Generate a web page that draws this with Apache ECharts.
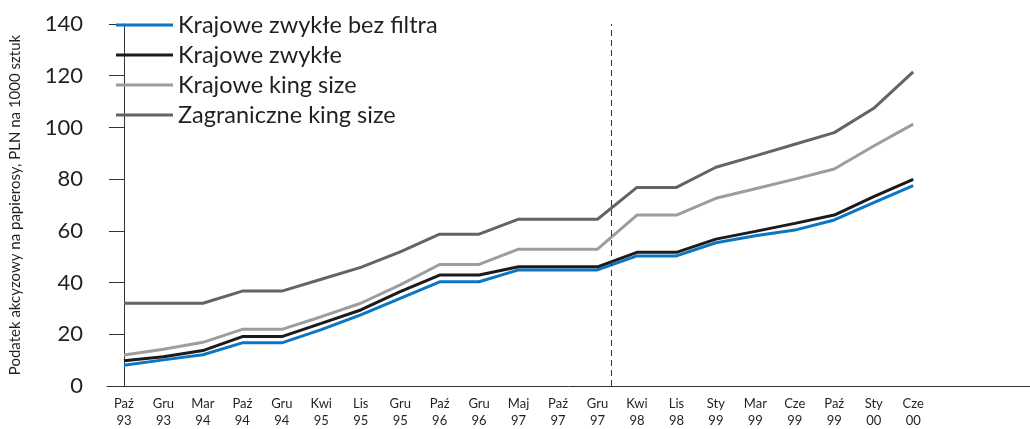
<!DOCTYPE html>
<html>
<head>
<meta charset="utf-8">
<script src="https://cdn.jsdelivr.net/npm/echarts@6/dist/echarts.min.js"></script>
<style>
  html, body { margin: 0; padding: 0; background: #fff; }
  #main { width: 1030px; height: 429px; }
</style>
</head>
<body>
<div id="main"></div>
<script>
// okresy na osi X
var categories = ["Paź 93", "Gru 93", "Mar 94", "Paź 94", "Gru 94", "Kwi 95", "Lis 95", "Gru 95",
  "Paź 96", "Gru 96", "Maj 97", "Paź 97", "Gru 97", "Kwi 98", "Lis 98", "Sty 99",
  "Mar 99", "Cze 99", "Paź 99", "Sty 00", "Cze 00"];

var seriesNames = ["Krajowe zwykłe bez filtra", "Krajowe zwykłe", "Krajowe king size", "Zagraniczne king size"];

var bezFiltra = [8.0, 10.1, 12.1, 16.7, 16.7, 21.8, 27.5, 33.9, 40.3, 40.3, 44.9, 44.9, 44.9,
  50.3, 50.3, 55.4, 58.1, 60.3, 64.2, 70.9, 77.5];
var zwykle = [9.8, 11.3, 13.7, 19.1, 19.1, 24.2, 29.4, 36.5, 42.9, 42.9, 46.1, 46.1, 46.1,
  51.7, 51.7, 56.8, 59.8, 62.9, 66.1, 73.2, 79.9];
var kingSize = [12.0, 14.2, 16.9, 21.9, 21.9, 26.8, 32.0, 39.1, 47.0, 47.0, 52.9, 52.9, 52.9,
  66.1, 66.1, 72.6, 76.3, 80.0, 83.9, 92.8, 101.3];
var zagraniczne = [32.0, 32.0, 32.0, 36.7, 36.7, 41.3, 45.9, 51.9, 58.7, 58.7, 64.5, 64.5, 64.5,
  76.8, 76.8, 84.6, 89.0, 93.5, 98.0, 107.4, 121.5];

var colors = ["#0a76c4", "#1c1a1a", "#9d9d9d", "#646464"];
var allValues = [bezFiltra, zwykle, kingSize, zagraniczne];

var font = "Lato";
var myChart = echarts.init(document.getElementById("main"));

var series = allValues.map(function (vals, k) {
  var s = {
    name: seriesNames[k],
    type: "line",
    symbol: "none",
    silent: true,
    data: vals.map(function (v, i) { return [i, v]; }),
    lineStyle: { width: 3, color: colors[k] },
    itemStyle: { color: colors[k] }
  };
  if (k === 0) {
    // granica przerywana miedzy Gru 97 a Kwi 98
    s.markLine = {
      silent: true,
      symbol: "none",
      label: { show: false },
      lineStyle: { type: [6, 4], color: "#333", width: 1 },
      data: [{ xAxis: 12.36 }]
    };
  }
  return s;
});

var option = {
  animation: false,
  color: colors,
  grid: { left: 106, right: 0, top: 24, bottom: 43 },
  legend: {
    orient: "vertical",
    left: 116,
    top: 12,
    padding: 0,
    icon: "rect",
    itemWidth: 57,
    itemHeight: 3,
    itemGap: 4,
    textStyle: { fontFamily: font, fontSize: 23.5, color: "#231f20", lineHeight: 26 },
    data: seriesNames
  },
  xAxis: {
    type: "value",
    min: -0.43,
    max: 22.96,
    splitLine: { show: false },
    axisLine: { lineStyle: { color: "#333", width: 1 } },
    axisTick: { show: false },
    axisLabel: {
      customValues: categories.map(function (c, i) { return i; }),
      formatter: function (v) {
        var c = categories[Math.round(v)];
        return c ? c.replace(" ", "\n") : "";
      },
      fontFamily: font,
      fontSize: 13,
      lineHeight: 17,
      color: "#231f20",
      margin: 9
    }
  },
  yAxis: {
    type: "value",
    min: 0,
    max: 140,
    interval: 20,
    name: "Podatek akcyzowy na papierosy, PLN na 1000 sztuk",
    nameLocation: "middle",
    nameGap: 84,
    nameTextStyle: { fontFamily: font, fontSize: 15, color: "#231f20" },
    splitLine: { show: false },
    axisLine: { show: true, lineStyle: { color: "#333", width: 1 } },
    axisTick: { show: true, length: 15, lineStyle: { color: "#333" } },
    axisLabel: { fontFamily: font, fontSize: 22, color: "#231f20", margin: 24 }
  },
  series: series
};

myChart.setOption(option);
</script>
</body>
</html>
